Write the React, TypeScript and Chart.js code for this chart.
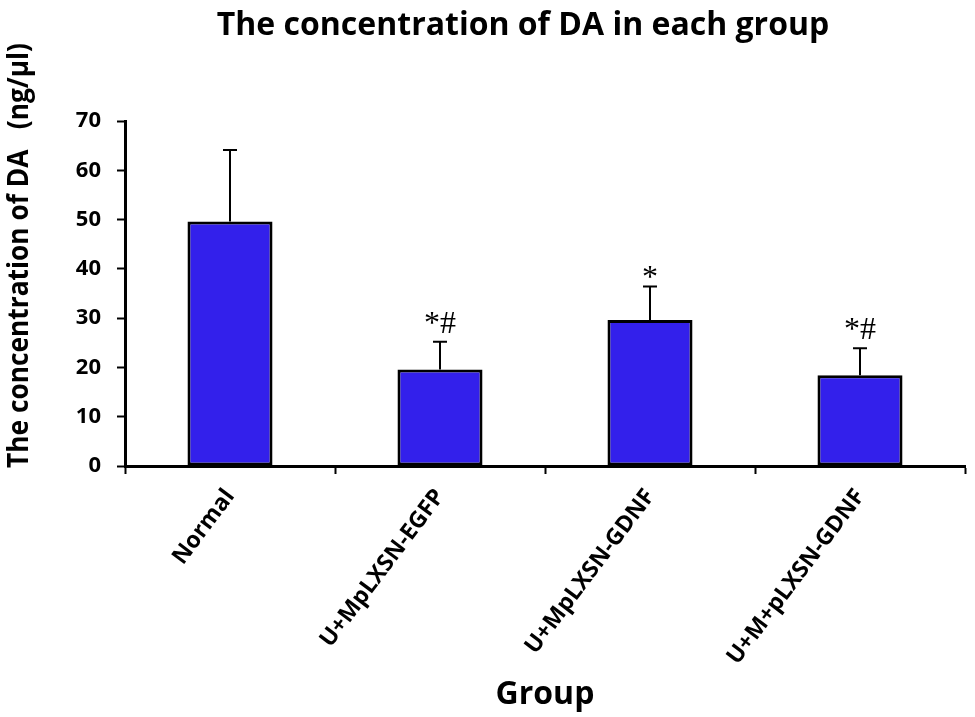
import React, { useEffect, useRef } from 'react';
import { Chart, registerables } from 'chart.js';

Chart.register(...registerables);

const categories = ['Normal', 'U+MpLXSN-EGFP', 'U+MpLXSN-GDNF', 'U+M+pLXSN-GDNF'];
const meanValues = [49.6, 19.6, 29.6, 18.4];
const errorValues = [14.5, 5.6, 6.8, 5.5];
const significance = ['', '*#', '*', '*#'];
const yMin = 0;
const yMax = 70;
const yStep = 10;
const chartTitle = 'The concentration of DA in each group';
const yTitle = 'The concentration of DA   (ng/\u03bcl)';
const xTitle = 'Group';

const SANS = '"Open Sans", "Noto Sans", sans-serif';

const overlayPlugin = {
  id: 'overlay',
  afterDatasetsDraw(chart: any) {
    const { ctx } = chart;
    const y = chart.scales.y;
    const meta = chart.getDatasetMeta(0);
    ctx.save();
    ctx.strokeStyle = '#000';
    ctx.fillStyle = '#000';
    ctx.lineWidth = 2;
    meta.data.forEach((bar: any, i: number) => {
      const cx = bar.x;
      const yTop = y.getPixelForValue(meanValues[i]);
      const yErr = y.getPixelForValue(meanValues[i] + errorValues[i]);
      ctx.beginPath();
      ctx.moveTo(cx, yTop);
      ctx.lineTo(cx, yErr);
      ctx.moveTo(cx - 7, yErr);
      ctx.lineTo(cx + 7, yErr);
      ctx.stroke();
      const label = significance[i];
      if (label) {
        ctx.font = '32px "Liberation Serif", "DejaVu Serif", serif';
        ctx.textAlign = 'center';
        ctx.textBaseline = 'alphabetic';
        const m = ctx.measureText(label);
        ctx.fillText(label, cx, yErr - 9 - m.actualBoundingBoxDescent);
      }
    });
    ctx.restore();
  },
  afterDraw(chart: any) {
    const { ctx, chartArea } = chart;
    ctx.save();
    ctx.fillStyle = '#000';
    // main title
    ctx.font = `bold 32px ${SANS}`;
    ctx.textAlign = 'center';
    ctx.textBaseline = 'middle';
    const cxArea = (chartArea.left + chartArea.right) / 2;
    ctx.fillText(chartTitle, cxArea - 22, 26, 622);
    // y axis title
    ctx.translate(20, (chartArea.top + chartArea.bottom) / 2 - 38);
    ctx.rotate(-Math.PI / 2);
    ctx.font = `bold 28px ${SANS}`;
    ctx.fillText(yTitle, 0, 0, 425);
    ctx.restore();
  },
};

export default function App() {
  const canvasRef = useRef<HTMLCanvasElement | null>(null);

  useEffect(() => {
    if (!canvasRef.current) return;
    const chart = new Chart(canvasRef.current, {
      type: 'bar',
      data: {
        labels: categories,
        datasets: [
          {
            data: meanValues,
            backgroundColor: '#3320EB',
            borderColor: '#000',
            borderWidth: 3,
            borderSkipped: false,
            categoryPercentage: 1,
            barPercentage: 0.405,
          },
        ],
      },
      options: {
        responsive: false,
        animation: false,
        layout: { padding: { top: 121, right: 10, left: 0, bottom: 0 } },
        plugins: {
          legend: { display: false },
          title: { display: false },
          tooltip: { enabled: false },
        },
        scales: {
          x: {
            afterFit(scale: any) {
              scale.height = 251;
            },
            grid: {
              drawOnChartArea: false,
              drawTicks: true,
              tickLength: 8,
              tickColor: '#000',
              tickWidth: 2,
            },
            border: { display: true, color: '#000', width: 3 },
            ticks: {
              autoSkip: false,
              minRotation: 53,
              maxRotation: 53,
              padding: 10,
              color: '#000',
              font: { family: SANS, size: 23, weight: 'bold' },
            },
            title: {
              display: true,
              text: xTitle,
              color: '#000',
              font: { family: SANS, size: 32, weight: 'bold' },
              padding: { top: 0, bottom: 3 },
            },
          },
          y: {
            min: yMin,
            max: yMax,
            afterFit(scale: any) {
              scale.width = 125;
            },
            grid: {
              drawOnChartArea: false,
              drawTicks: true,
              tickLength: 8,
              tickColor: '#000',
              tickWidth: 2,
            },
            border: { display: true, color: '#000', width: 3 },
            ticks: {
              stepSize: yStep,
              padding: 16,
              color: '#000',
              font: { family: SANS, size: 22, weight: 'bold' },
            },
          },
        },
      },
      plugins: [overlayPlugin],
    } as any);
    return () => chart.destroy();
  }, []);

  return (
    <div style={{ position: 'fixed', left: 0, top: 0, width: 975, height: 717, background: '#fff' }}>
      <canvas ref={canvasRef} width={975} height={717} />
    </div>
  );
}
